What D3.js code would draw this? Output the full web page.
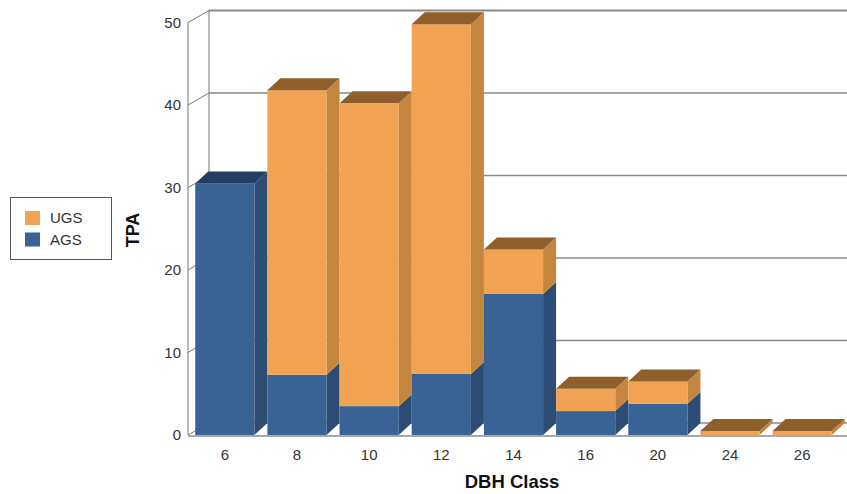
<!DOCTYPE html>
<html>
<head>
<meta charset="utf-8">
<script src="https://cdn.jsdelivr.net/npm/d3@7"></script>
<style>
  html, body { margin: 0; padding: 0; background: #fff; }
  svg { display: block; font-family: "Liberation Sans", Arial, sans-serif; }
</style>
</head>
<body>
<svg id="chart" width="847" height="494"></svg>
<script>
// DBH classes and trees-per-acre by quality group
const dbhClasses = ["6", "8", "10", "12", "14", "16", "20", "24", "26"];
const agsValues  = [30.5, 7.3, 3.5, 7.4, 17.1, 2.9, 3.8, 0, 0];
const ugsValues  = [0, 34.5, 36.7, 42.4, 5.4, 2.7, 2.7, 0.5, 0.5];
const yTicks     = [0, 10, 20, 30, 40, 50];
const seriesNames = ["AGS", "UGS"];

const palette = {
  AGS: { front: "#3a6395", side: "#2d4c74", top: "#243e60" },
  UGS: { front: "#f0a352", side: "#c4853f", top: "#8f5f2b" }
};

const svg = d3.select("#chart");
const W = 847;

// front plane of the plot
const x = d3.scaleBand().domain(dbhClasses).range([188, 839])
  .paddingInner(0.18).paddingOuter(0.1);
const y = d3.scaleLinear().domain([0, 50]).range([435, 22.5]);

// depth offsets: walls and bars
const wall = { dx: 21, dy: -12 };
const bar  = { dx: 13, dy: -12 };

const gridColor = "#8a8a8a";
const g = svg.append("g");

// back wall gridlines and slanted side-wall ticks
yTicks.forEach(t => {
  const yf = y(t), yb = y(t) + wall.dy;
  g.append("line").attr("x1", 188 + wall.dx).attr("x2", W + 5)
    .attr("y1", yb).attr("y2", yb)
    .attr("stroke", gridColor).attr("stroke-width", t === 50 ? 2 : 1.6);
  g.append("line").attr("x1", 188).attr("y1", yf)
    .attr("x2", 188 + wall.dx).attr("y2", yb)
    .attr("stroke", "#777").attr("stroke-width", 1);
});
// back wall left edge and front axis line
g.append("line").attr("x1", 188 + wall.dx).attr("x2", 188 + wall.dx)
  .attr("y1", y(50) + wall.dy).attr("y2", y(0) + wall.dy)
  .attr("stroke", "#777").attr("stroke-width", 1);
g.append("line").attr("x1", 188).attr("x2", 188)
  .attr("y1", y(50)).attr("y2", y(0))
  .attr("stroke", "#777").attr("stroke-width", 1);
// floor front edge
g.append("line").attr("x1", 188).attr("x2", W + 5)
  .attr("y1", y(0) + 1).attr("y2", y(0) + 1)
  .attr("stroke", "#a8a8a8").attr("stroke-width", 2);

// stacked 3D bars
const stack = d3.stack().keys(seriesNames)(
  dbhClasses.map((c, i) => ({ cls: c, AGS: agsValues[i], UGS: ugsValues[i] }))
);

const barsG = svg.append("g");
dbhClasses.forEach((c, i) => {
  const x0 = x(c), x1 = x0 + x.bandwidth();
  const segs = stack.map(s => ({ key: s.key, lo: s[i][0], hi: s[i][1] }))
    .filter(s => s.hi > s.lo);
  segs.forEach((s, k) => {
    const col = palette[s.key];
    const yl = y(s.lo), yh = y(s.hi);
    // side face
    barsG.append("path")
      .attr("d", `M${x1},${yl}L${x1 + bar.dx},${yl + bar.dy}L${x1 + bar.dx},${yh + bar.dy}L${x1},${yh}Z`)
      .attr("fill", col.side);
    // front face
    barsG.append("rect").attr("x", x0).attr("y", yh)
      .attr("width", x1 - x0).attr("height", yl - yh)
      .attr("fill", col.front);
    // top face on the highest segment
    if (k === segs.length - 1) {
      barsG.append("path")
        .attr("d", `M${x0},${yh}L${x0 + bar.dx},${yh + bar.dy}L${x1 + bar.dx},${yh + bar.dy}L${x1},${yh}Z`)
        .attr("fill", col.top);
    }
  });
});

// y tick labels
svg.append("g").selectAll("text").data(yTicks).join("text")
  .attr("x", 181).attr("y", d => y(d)).attr("dy", "0.35em")
  .attr("text-anchor", "end").attr("font-size", 15).attr("fill", "#333")
  .text(d => d);

// x tick labels
svg.append("g").selectAll("text").data(dbhClasses).join("text")
  .attr("x", d => x(d) + x.bandwidth() / 2).attr("y", 459.5)
  .attr("text-anchor", "middle").attr("font-size", 15).attr("fill", "#333")
  .text(d => d);

// axis titles
svg.append("text").attr("x", 512).attr("y", 487.5)
  .attr("text-anchor", "middle").attr("font-size", 18.5).attr("font-weight", "bold")
  .attr("fill", "#111").text("DBH Class");
svg.append("text").attr("transform", "translate(139,230) rotate(-90)")
  .attr("text-anchor", "middle").attr("font-size", 18).attr("font-weight", "bold")
  .attr("fill", "#111").text("TPA");

// legend
const leg = svg.append("g");
leg.append("rect").attr("x", 10.5).attr("y", 197.5).attr("width", 101).attr("height", 62)
  .attr("fill", "#fff").attr("stroke", "#555").attr("stroke-width", 1);
["UGS", "AGS"].forEach((name, i) => {
  leg.append("rect").attr("x", 25).attr("y", 211 + i * 21.5)
    .attr("width", 15).attr("height", 14).attr("fill", palette[name].front);
  leg.append("text").attr("x", 50).attr("y", 218 + i * 21.5).attr("dy", "0.35em")
    .attr("font-size", 15).attr("fill", "#333").text(name);
});
</script>
</body>
</html>
